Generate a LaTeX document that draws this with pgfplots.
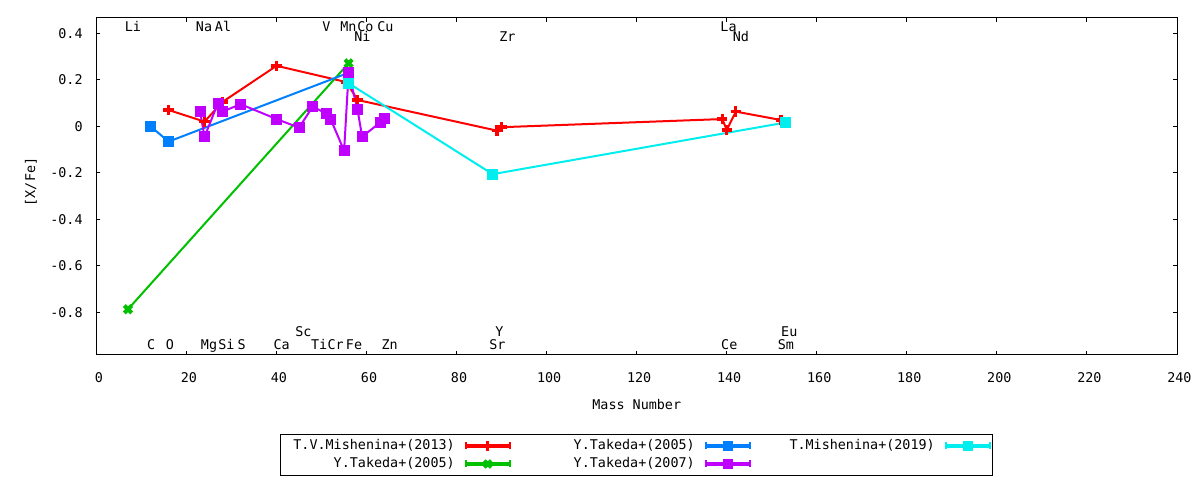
\documentclass[border=0pt]{standalone}
\usepackage{fontspec}
\setmainfont{DejaVu Sans Mono}
\usepackage{pgfplots}
\pgfplotsset{compat=1.18}
\definecolor{gpred}{HTML}{FF0000}
\definecolor{gpgreen}{HTML}{00C000}
\definecolor{gpblue}{HTML}{0080FF}
\definecolor{gppurple}{HTML}{C000FF}
\definecolor{gpcyan}{HTML}{00EEEE}
\newcommand{\gpfont}{\fontsize{6.7}{8}\selectfont}
\begin{document}
\begin{tikzpicture}
\useasboundingbox (-48.25pt,-62.5pt) rectangle (551.75pt,177.5pt);
\begin{axis}[
  at={(0,0)}, anchor=south west,
  scale only axis, width=540.25pt, height=168.65pt,
  xmin=0, xmax=240, ymin=-0.9837, ymax=0.467,
  clip=false,
  axis line style={line width=0.5pt},
  tick align=inside, major tick length=2pt,
  tick style={black, line width=0.5pt},
  xtick={0,20,40,60,80,100,120,140,160,180,200,220,240},
  xticklabels={0,20,40,60,80,100,120,140,160,180,200,220,240},
  ytick={-0.8,-0.6,-0.4,-0.2,0,0.2,0.4},
  yticklabels={-0.8,-0.6,-0.4,-0.2,0,0.2,0.4},
  ticklabel style={font=\gpfont},
  xticklabel style={yshift=-5.2pt, xshift=1.2pt},
  yticklabel style={xshift=-3.4pt},
  xlabel={Mass Number}, ylabel={[X/Fe]},
  label style={font=\gpfont},
  xlabel style={at={(axis description cs:0.5,-0.163)}, anchor=base},
  ylabel style={at={(axis description cs:-0.0608,0.513)}, anchor=center},
  legend columns=3,
  legend plot pos=right,
  legend style={at={(0.5,-0.2342)}, anchor=north, draw=black, line width=0.5pt,
    font=\gpfont, inner xsep=0.5pt, inner ysep=2.5pt,
    nodes={text width=86.5pt, align=right, inner xsep=0pt, inner ysep=0pt, text height=5pt, text depth=1.5pt},
    /tikz/every odd column/.append style={column sep=4.5pt},
    /tikz/every even column/.append style={column sep=5pt},
    row sep=2.5pt},
  legend image code/.code={
    \draw[line width=2pt] (0pt,0pt) -- (22pt,0pt);
    \draw[line width=1pt] (0pt,-1.75pt) -- (0pt,1.75pt) (22pt,-1.75pt) -- (22pt,1.75pt);
    \draw[line width=2pt] plot coordinates {(11pt,0pt)};
  },
]
% T.V.Mishenina+(2013)
\addplot[gpred, line width=1pt, mark=+, mark size=2.6pt, mark options={line width=1.7pt}, forget plot] coordinates {
(16,0.070) (24,0.020) (28,0.105) (40,0.260) (55.5,0.190) (58,0.113) (89,-0.019) (90,-0.004) (139,0.031) (140,-0.016) (142,0.063) (152,0.027)};
% Y.Takeda+(2005) green
\addplot[gpgreen, line width=1pt, mark=x, mark size=2.6pt, mark options={line width=2pt}, forget plot] coordinates {
(7,-0.787) (56,0.271)};
% Y.Takeda+(2005) blue
\addplot[gpblue, line width=1pt, mark=square*, mark size=2.5pt, mark options={fill=gpblue, draw=gpblue, line width=0pt}, forget plot] coordinates {
(12,0.000) (16,-0.066) (56,0.230)};
% Y.Takeda+(2007)
\addplot[gppurple, line width=1pt, mark=square*, mark size=2.5pt, mark options={fill=gppurple, draw=gppurple, line width=0pt}, forget plot] coordinates {
(23,0.063) (24,-0.045) (27,0.100) (28,0.063) (32,0.095) (40,0.031) (45,-0.006) (48,0.084) (51,0.056) (52,0.031) (55,-0.105) (56,0.230) (58,0.070) (59,-0.045) (63,0.016) (64,0.034)};
% T.Mishenina+(2019)
\addplot[gpcyan, line width=1pt, mark=square*, mark size=2.5pt, mark options={fill=gpcyan, draw=gpcyan, line width=0pt}, forget plot] coordinates {
(56,0.185) (88,-0.206) (153,0.016)};

\addlegendimage{gpred, mark=+, mark size=2.4pt, mark options={line width=1.5pt}}
\addlegendimage{gpblue, mark=square*, mark size=2.2pt, mark options={fill=gpblue, draw=gpblue, line width=0pt}}
\addlegendimage{gpcyan, mark=square*, mark size=2.2pt, mark options={fill=gpcyan, draw=gpcyan, line width=0pt}}
\addlegendimage{gpgreen, mark=x, mark size=2.4pt, mark options={line width=1.8pt}}
\addlegendimage{gppurple, mark=square*, mark size=2.2pt, mark options={fill=gppurple, draw=gppurple, line width=0pt}}
\legend{T.V.Mishenina+(2013), Y.Takeda+(2005), T.Mishenina+(2019), Y.Takeda+(2005), Y.Takeda+(2007)}

% element labels, upper
\node[anchor=base west, inner sep=0pt, font=\gpfont] at (axis cs:6.22,0.407) {Li};
\node[anchor=base west, inner sep=0pt, font=\gpfont] at (axis cs:22.0,0.407) {Na};
\node[anchor=base west, inner sep=0pt, font=\gpfont] at (axis cs:26.22,0.407) {Al};
\node[anchor=base west, inner sep=0pt, font=\gpfont] at (axis cs:50.07,0.407) {V};
\node[anchor=base west, inner sep=0pt, font=\gpfont] at (axis cs:54.07,0.407) {Mn};
\node[anchor=base west, inner sep=0pt, font=\gpfont] at (axis cs:57.84,0.407) {Co};
\node[anchor=base west, inner sep=0pt, font=\gpfont] at (axis cs:62.29,0.407) {Cu};
\node[anchor=base west, inner sep=0pt, font=\gpfont] at (axis cs:138.5,0.407) {La};
\node[anchor=base west, inner sep=0pt, font=\gpfont] at (axis cs:57.18,0.364) {Ni};
\node[anchor=base west, inner sep=0pt, font=\gpfont] at (axis cs:89.4,0.364) {Zr};
\node[anchor=base west, inner sep=0pt, font=\gpfont] at (axis cs:141.24,0.364) {Nd};
% element labels, lower
\node[anchor=base west, inner sep=0pt, font=\gpfont] at (axis cs:44.07,-0.903) {Sc};
\node[anchor=base west, inner sep=0pt, font=\gpfont] at (axis cs:88.5,-0.903) {Y};
\node[anchor=base west, inner sep=0pt, font=\gpfont] at (axis cs:152.0,-0.903) {Eu};
\node[anchor=base west, inner sep=0pt, font=\gpfont] at (axis cs:11.18,-0.961) {C};
\node[anchor=base west, inner sep=0pt, font=\gpfont] at (axis cs:15.33,-0.961) {O};
\node[anchor=base west, inner sep=0pt, font=\gpfont] at (axis cs:23.11,-0.961) {Mg};
\node[anchor=base west, inner sep=0pt, font=\gpfont] at (axis cs:26.96,-0.961) {Si};
\node[anchor=base west, inner sep=0pt, font=\gpfont] at (axis cs:31.24,-0.961) {S};
\node[anchor=base west, inner sep=0pt, font=\gpfont] at (axis cs:39.24,-0.961) {Ca};
\node[anchor=base west, inner sep=0pt, font=\gpfont] at (axis cs:47.56,-0.961) {Ti};
\node[anchor=base west, inner sep=0pt, font=\gpfont] at (axis cs:51.24,-0.961) {Cr};
\node[anchor=base west, inner sep=0pt, font=\gpfont] at (axis cs:55.33,-0.961) {Fe};
\node[anchor=base west, inner sep=0pt, font=\gpfont] at (axis cs:63.24,-0.961) {Zn};
\node[anchor=base west, inner sep=0pt, font=\gpfont] at (axis cs:87.18,-0.961) {Sr};
\node[anchor=base west, inner sep=0pt, font=\gpfont] at (axis cs:138.67,-0.961) {Ce};
\node[anchor=base west, inner sep=0pt, font=\gpfont] at (axis cs:151.24,-0.961) {Sm};
\end{axis}
\end{tikzpicture}
\end{document}
